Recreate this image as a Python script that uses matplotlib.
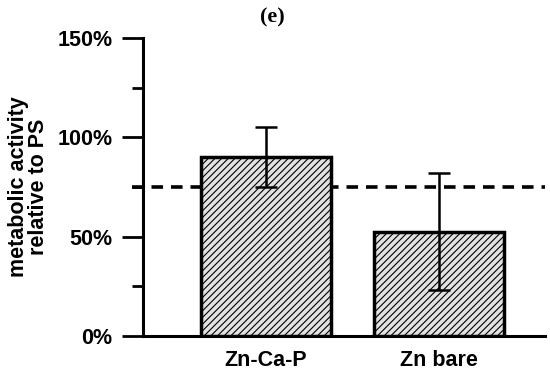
import matplotlib.pyplot as plt
import matplotlib as mpl

# data
categories = ["Zn-Ca-P", "Zn bare"]
activity = [90, 52.5]
errors = [15, 29.5]
reference_level = 75
yticks = [0, 50, 100, 150]
ytick_labels = ["0%", "50%", "100%", "150%"]
minor_ticks = [25, 75, 125]

mpl.rcParams['hatch.color'] = '#9a9a9a'
mpl.rcParams['hatch.linewidth'] = 0.8

fig = plt.figure(figsize=(5.5, 3.73), dpi=100)
ax = fig.add_axes([0.26, 0.099, 0.731, 0.799])

x = list(range(len(categories)))
ax.bar(x, activity, width=0.75, color='#e2e2e2', edgecolor='black',
       linewidth=2.5, hatch='/////', zorder=3)
ax.errorbar(x, activity, yerr=errors, fmt='none', ecolor='black',
            elinewidth=1.8, capsize=8, capthick=1.8, zorder=4)

# dashed reference line, behind the bars
ax.plot([-0.77, 1.614], [reference_level, reference_level], color='black',
        lw=2.6, dashes=(3.2, 2.2), clip_on=False, zorder=1)

ax.set_xlim(-0.709, 1.614)
ax.set_ylim(0, 150)

font = dict(fontsize=15.5, fontweight='bold', family='Liberation Sans')

ax.set_yticks(yticks)
ax.set_yticklabels(ytick_labels, **font)
ax.set_yticks(minor_ticks, minor=True)
ax.tick_params(axis='y', which='major', length=15, width=2, pad=7)
ax.tick_params(axis='y', which='minor', length=8, width=2)

ax.set_xticks(x)
ax.set_xticklabels(categories, **font)
ax.tick_params(axis='x', length=0, pad=10)

for side in ['top', 'right']:
    ax.spines[side].set_visible(False)
for side in ['left', 'bottom']:
    ax.spines[side].set_linewidth(2.2)

ax.set_ylabel("metabolic activity\nrelative to PS", labelpad=6,
              linespacing=0.95, **font)

fig.text(0.495, 0.952, "(e)", ha='center', va='center', fontsize=16,
         family='Liberation Serif', fontweight='bold')

fig.savefig("out.png", dpi=100)
